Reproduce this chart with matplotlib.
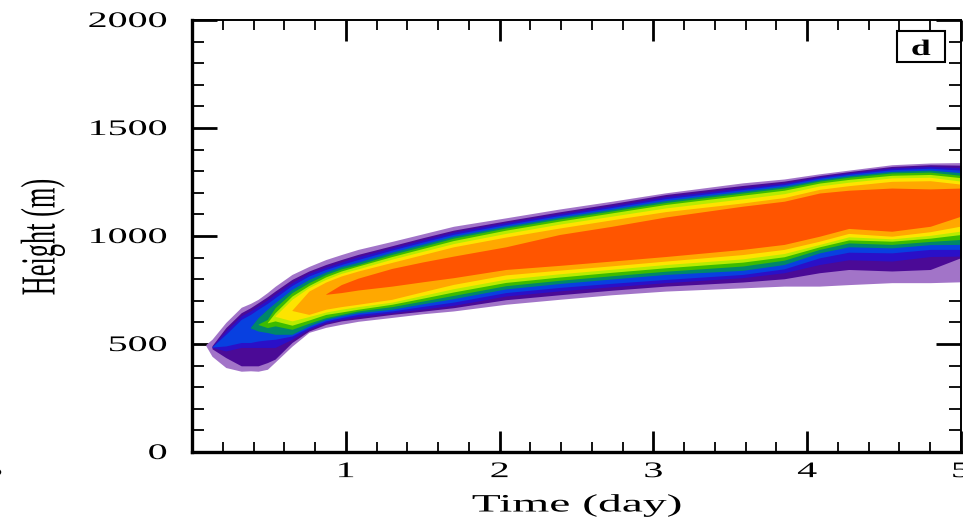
#!/usr/bin/env python3
"""Height-time section of the simulated plume (panel d)."""

import matplotlib

matplotlib.use("Agg")
import matplotlib.pyplot as plt
import numpy as np
from matplotlib.patches import Rectangle
from matplotlib.patheffects import AbstractPathEffect
from matplotlib.ticker import MultipleLocator
from matplotlib.transforms import Affine2D

nan = np.nan

# time axis shared by every contour band (days)
TIME_DAY = [0.09, 0.13, 0.22, 0.32, 0.38, 0.43, 0.49, 0.54, 0.65, 0.76, 0.87, 0.97, 1.08, 1.30,
            1.50, 1.70, 2.04, 2.39, 2.73, 3.08, 3.58, 3.85, 4.08, 4.27, 4.55, 4.80, 5.00]

# lower / upper edge (m) of each filled level, outermost first
LEVEL1_BOTTOM = [492, 443, 391, 374, 376, 374, 383, 416, 490, 554, 577, 591, 605, 623,
                 640, 653, 684, 707, 728, 745, 760, 768, 768, 775, 784, 784, 788]
LEVEL1_TOP = [498, 522, 600, 670, 688, 707, 738, 767, 822, 859, 891, 914, 938, 975,
              1010, 1045, 1084, 1125, 1161, 1200, 1246, 1264, 1288, 1305, 1330, 1338, 1340]

LEVEL2_BOTTOM = [nan, 478, 437, 399, 399, 399, 414, 430, 507, 560, 591, 607, 617, 637,
                 652, 668, 705, 728, 749, 768, 787, 802, 830, 845, 838, 845, 900]
LEVEL2_TOP = [nan, 492, 576, 645, 668, 691, 719, 745, 799, 838, 868, 891, 915, 955,
              992, 1027, 1070, 1112, 1150, 1192, 1234, 1254, 1280, 1298, 1322, 1330, 1328]

LEVEL3_BOTTOM = [nan, 484, 468, 484, 484, 484, 484, 484, 522, 568, 599, 614, 627, 645,
                 662, 679, 722, 746, 765, 784, 807, 830, 868, 890, 884, 905, 907]
LEVEL3_TOP = [nan, 488, 560, 630, 653, 676, 704, 730, 784, 827, 856, 879, 904, 945,
              982, 1018, 1062, 1103, 1140, 1182, 1223, 1245, 1274, 1292, 1315, 1322, 1316]

LEVEL4_BOTTOM = [nan, 486, 491, 507, 507, 514, 519, 522, 537, 576, 607, 622, 637, 653,
                 674, 694, 738, 762, 781, 799, 822, 848, 899, 925, 922, 938, 938]
LEVEL4_TOP = [nan, 487, 545, 614, 637, 661, 688, 714, 771, 815, 845, 868, 891, 935,
              972, 1008, 1053, 1095, 1132, 1173, 1215, 1238, 1268, 1286, 1307, 1314, 1305]

LEVEL5_BOTTOM = [nan, nan, nan, nan, 574, 560, 553, 545, 545, 584, 614, 630, 645, 661,
                 686, 710, 755, 780, 801, 822, 841, 868, 922, 950, 945, 960, 961]
LEVEL5_TOP = [nan, nan, nan, nan, 578, 622, 661, 691, 753, 799, 833, 858, 879, 925,
              962, 999, 1045, 1087, 1124, 1164, 1207, 1230, 1261, 1279, 1299, 1305, 1293]

LEVEL6_BOTTOM = [nan, nan, nan, nan, nan, 590, 576, 584, 568, 596, 622, 637, 653, 673,
                 699, 725, 770, 795, 816, 837, 861, 888, 938, 968, 961, 975, 984]
LEVEL6_TOP = [nan, nan, nan, nan, nan, 592, 614, 668, 738, 784, 822, 848, 868, 915,
              952, 990, 1037, 1079, 1116, 1155, 1199, 1222, 1254, 1272, 1292, 1296, 1281]

LEVEL7_BOTTOM = [nan, nan, nan, nan, nan, nan, 598, 607, 587, 611, 637, 648, 661, 684,
                 712, 741, 785, 810, 832, 853, 879, 904, 950, 982, 976, 990, 1007]
LEVEL7_TOP = [nan, nan, nan, nan, nan, nan, 600, 645, 722, 771, 811, 838, 861, 905,
              942, 979, 1027, 1069, 1107, 1146, 1189, 1212, 1245, 1262, 1281, 1285, 1270]

LEVEL8_BOTTOM = [nan, nan, nan, nan, nan, nan, nan, 628, 607, 627, 648, 661, 673, 694,
                 725, 756, 800, 825, 846, 868, 894, 919, 961, 996, 987, 1003, 1023]
LEVEL8_TOP = [nan, nan, nan, nan, nan, nan, nan, 630, 707, 761, 799, 827, 848, 893,
              929, 965, 1012, 1055, 1092, 1130, 1172, 1196, 1232, 1249, 1269, 1272, 1254]

LEVEL9_BOTTOM = [nan, nan, nan, nan, nan, nan, nan, nan, 655, 637, 661, 673, 684, 707,
                 742, 776, 820, 842, 862, 884, 914, 938, 976, 1012, 999, 1020, 1046]
LEVEL9_TOP = [nan, nan, nan, nan, nan, nan, nan, nan, 657, 745, 787, 815, 838, 878,
              914, 950, 995, 1037, 1075, 1113, 1153, 1178, 1216, 1233, 1253, 1256, 1240]

LEVEL10_BOTTOM = [nan, nan, nan, nan, nan, nan, nan, nan, nan, nan, 730, 738, 750, 768,
                  788, 807, 845, 864, 884, 905, 938, 961, 999, 1035, 1022, 1045, 1092]
LEVEL10_TOP = [nan, nan, nan, nan, nan, nan, nan, nan, nan, nan, 732, 775, 805, 850,
               880, 907, 950, 1007, 1045, 1088, 1138, 1161, 1199, 1212, 1222, 1218, 1222]

LEVEL_COLORS = ["#a274c8", "#4b0a96", "#2a10c8", "#0840e0", "#00876a",
                "#3cbc00", "#b8ec00", "#fde400", "#ffa800", "#ff5500"]

X_TICKS = [1, 2, 3, 4, 5]
X_TICK_LABELS = ["1", "2", "3", "4", "5"]
Y_TICKS = [0, 500, 1000, 1500, 2000]
Y_TICK_LABELS = ["0", "500", "1000", "1500", "2000"]

FIG_W, FIG_H = 963, 524


class StretchText(AbstractPathEffect):
    """Draw a text path widened along x and/or y (the reference text is stretched)."""

    def __init__(self, sx=1.0, sy=1.0, anchor=0.5):
        super().__init__()
        self._sx = sx
        self._sy = sy
        self._anchor = anchor

    def draw_path(self, renderer, gc, tpath, affine, rgbFace=None):
        ext = tpath.get_extents()
        x0 = ext.x0 + self._anchor * ext.width
        y0 = ext.y0 + 0.5 * ext.height
        stretch = Affine2D().translate(-x0, -y0).scale(self._sx, self._sy).translate(x0, y0)
        renderer.draw_path(gc, tpath, stretch + affine, rgbFace)


def draw_plume(ax):
    bottoms = [LEVEL1_BOTTOM, LEVEL2_BOTTOM, LEVEL3_BOTTOM, LEVEL4_BOTTOM, LEVEL5_BOTTOM,
               LEVEL6_BOTTOM, LEVEL7_BOTTOM, LEVEL8_BOTTOM, LEVEL9_BOTTOM, LEVEL10_BOTTOM]
    tops = [LEVEL1_TOP, LEVEL2_TOP, LEVEL3_TOP, LEVEL4_TOP, LEVEL5_TOP,
            LEVEL6_TOP, LEVEL7_TOP, LEVEL8_TOP, LEVEL9_TOP, LEVEL10_TOP]
    for bottom, top, color in zip(bottoms, tops, LEVEL_COLORS):
        ax.fill_between(TIME_DAY, bottom, top, color=color, linewidth=0, zorder=2)


def style_axis(ax):
    ax.set_xlim(0, 5)
    ax.set_ylim(0, 2000)
    ax.set_xticks(X_TICKS)
    ax.set_xticklabels(X_TICK_LABELS)
    ax.set_yticks(Y_TICKS)
    ax.set_yticklabels(Y_TICK_LABELS)
    ax.xaxis.set_minor_locator(MultipleLocator(0.2))
    ax.yaxis.set_minor_locator(MultipleLocator(100))

    ax.tick_params(axis="both", which="both", direction="in", top=True, right=True, color="black")
    ax.tick_params(axis="x", which="major", length=15, width=2.0, pad=8, labelsize=16)
    ax.tick_params(axis="x", which="minor", length=7, width=1.3)
    ax.tick_params(axis="y", which="major", length=18, width=2.0, pad=18, labelsize=16)
    ax.tick_params(axis="y", which="minor", length=8.5, width=1.3)

    for spine in ["left", "bottom"]:
        ax.spines[spine].set_linewidth(2.4)
    for spine in ["top", "right"]:
        ax.spines[spine].set_linewidth(1.4)

    for label in ax.get_xticklabels():
        label.set_path_effects([StretchText(sx=1.8)])
    for label in ax.get_yticklabels():
        label.set_path_effects([StretchText(sx=1.8, anchor=1.0)])

    # panel tag in its box
    ax.add_patch(Rectangle((0.9168, 0.903), 0.062, 0.0715, transform=ax.transAxes,
                           facecolor="white", edgecolor="black", linewidth=1.5, zorder=5))
    tag = ax.text(0.948, 0.919, "d", transform=ax.transAxes, ha="center", va="baseline",
                  fontsize=16, fontweight="bold", zorder=6)
    tag.set_path_effects([StretchText(sx=1.6)])


def main():
    plt.rcParams["font.family"] = ["Liberation Serif", "DejaVu Serif"]
    fig = plt.figure(figsize=(FIG_W / 100, FIG_H / 100), dpi=100)
    ax = fig.add_axes([192 / FIG_W, 1 - 452 / FIG_H, 769 / FIG_W, 432 / FIG_H])

    draw_plume(ax)
    style_axis(ax)

    xlabel = fig.text(577 / FIG_W, 1 - 511.5 / FIG_H, "Time (day)", ha="center",
                      va="baseline", fontsize=18)
    xlabel.set_path_effects([StretchText(sx=1.9)])
    ylabel = fig.text(43 / FIG_W, 1 - 237 / FIG_H, "Height (m)", ha="center", va="center",
                      rotation=90, fontsize=19)
    ylabel.set_path_effects([StretchText(sy=1.85)])

    # edge of the neighbouring panel's tick label, cut by the frame
    stray = fig.text(-7 / FIG_W, 1 - 472 / FIG_H, "5", ha="center", va="center", fontsize=16)
    stray.set_path_effects([StretchText(sx=1.8)])

    fig.savefig("out.png", dpi=100)
    plt.close(fig)


if __name__ == "__main__":
    main()
